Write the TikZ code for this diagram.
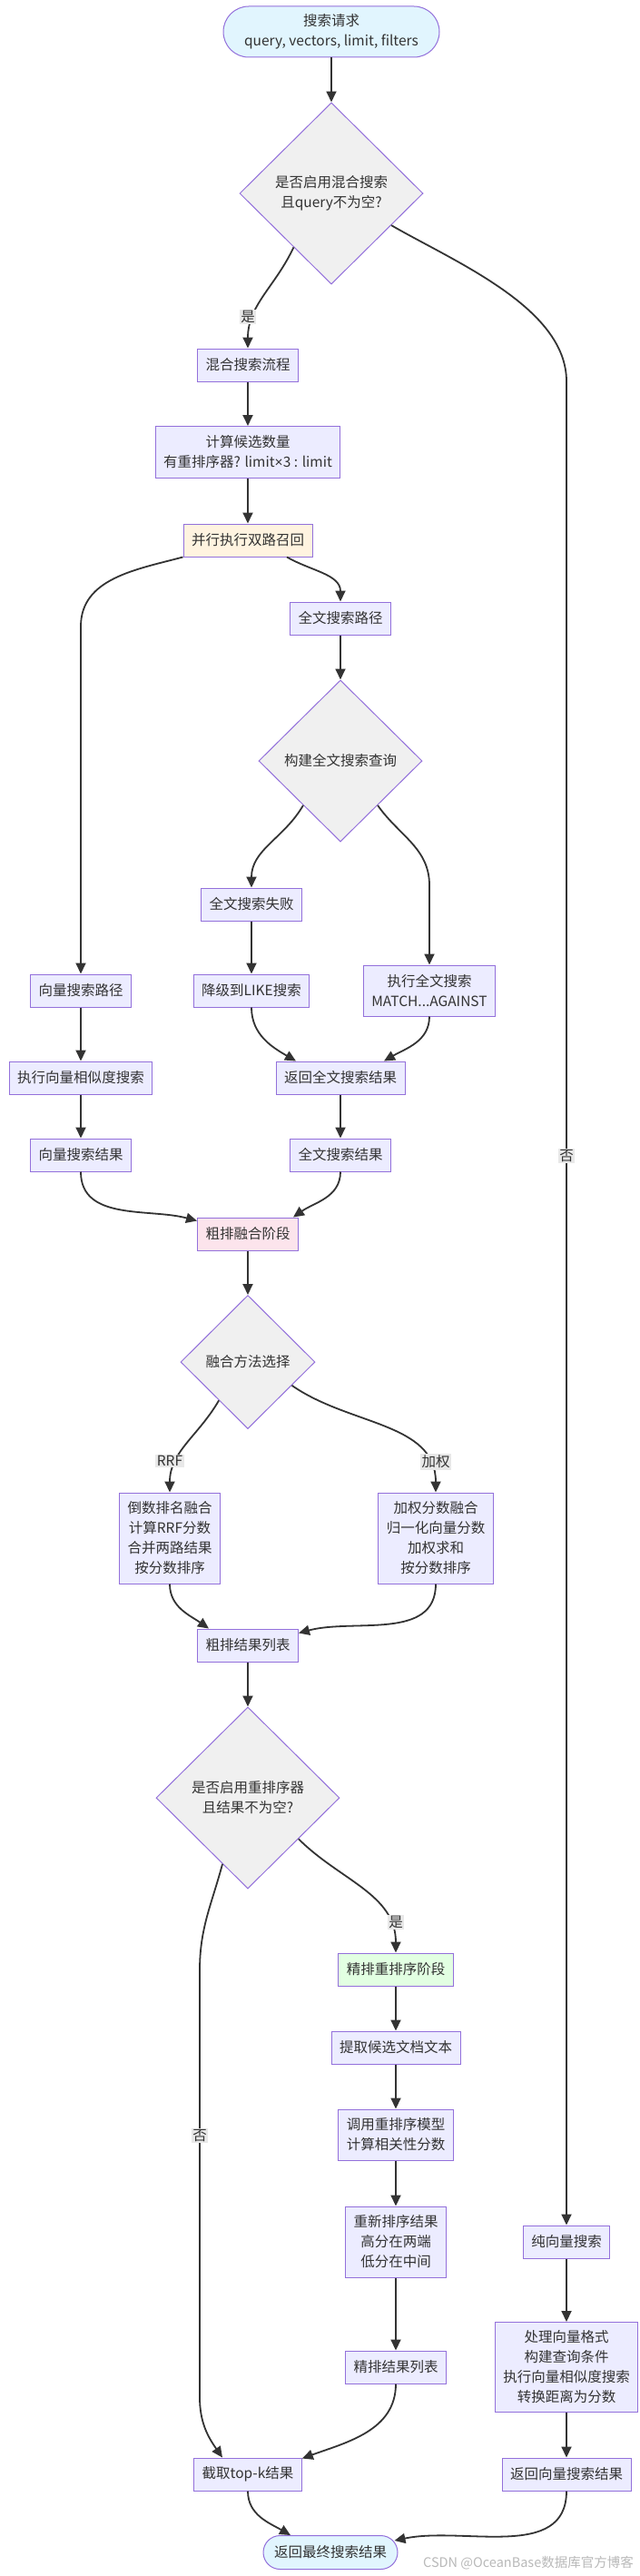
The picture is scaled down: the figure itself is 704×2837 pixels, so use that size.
\documentclass[tikz,border=0pt]{standalone}
\usepackage{fontspec}
\setmainfont{Noto Sans CJK SC}
\newfontfamily\timesfont{Liberation Sans}
\usepackage{tikz}
\usetikzlibrary{arrows.meta}
\usetikzlibrary{shapes.geometric}
\usetikzlibrary{shapes.misc}
\definecolor{boxfill}{RGB}{236,236,255}
\definecolor{boxline}{RGB}{147,112,219}
\definecolor{askfill}{RGB}{240,240,240}
\definecolor{endfill}{RGB}{225,245,254}
\definecolor{parfill}{RGB}{255,243,224}
\definecolor{fusefill}{RGB}{252,228,236}
\definecolor{finefill}{RGB}{226,255,226}
\definecolor{wire}{RGB}{51,51,51}
\definecolor{labfill}{RGB}{232,232,232}
\tikzset{>={Triangle[length=12pt,width=11pt]}}
\tikzset{
	box/.style={draw=boxline, fill=boxfill, line width=1pt, text=wire, align=center,
		minimum height=36pt, inner xsep=9pt, inner ysep=2pt, font=\fontsize{15.5}{22}\selectfont},
	term/.style={box, rounded rectangle, fill=endfill, inner xsep=2pt},
	ask/.style={box, diamond, aspect=1, fill=askfill, inner sep=0pt},
	flow/.style={draw=wire, line width=1.8pt, ->},
	elabel/.style={fill=labfill, text=wire, inner sep=1.5pt, font=\fontsize{15.5}{18}\selectfont},
}
\newcommand{\elab}[3]{% name, at, text
	\node[elabel] (#1) at (#2) {#3} % edge label
}
\begin{document}
\begin{tikzpicture}[x=1pt,y=-1pt]
			\path[use as bounding box, fill=white] (0,0) rectangle (704,2837);

			\node[term, minimum width=242pt, minimum height=56pt] (start) at (365,35) {搜索请求\\query, vectors, limit, filters};
			\node[ask, minimum width=202pt, minimum height=200pt] (d1) at (365,213) {是否启用混合搜索\\且query不为空?};
			\node[box] (hyb) at (273,402) {混合搜索流程};
			\node[box, minimum height=57pt] (calc) at (273,498) {计算候选数量\\有重排序器? limit{\timesfont ×}3 : limit};
			\node[box, fill=parfill] (par) at (273,595) {并行执行双路召回};
			\node[box] (ftpath) at (375,681) {全文搜索路径};
			\node[ask, minimum width=180pt, minimum height=178pt] (d2) at (375,838) {构建全文搜索查询};
			\node[box] (ftfail) at (277,996) {全文搜索失败};
			\node[box] (like) at (277,1091) {降级到LIKE搜索};
			\node[box, minimum height=56pt] (ftexec) at (473,1091) {执行全文搜索\\MATCH...AGAINST};
			\node[box] (vecpath) at (89,1091) {向量搜索路径};
			\node[box] (vecexec) at (89,1187) {执行向量相似度搜索};
			\node[box] (ftret) at (375,1187) {返回全文搜索结果};
			\node[box] (vecres) at (89,1272) {向量搜索结果};
			\node[box] (ftres) at (375,1272) {全文搜索结果};
			\node[box, fill=fusefill] (fuse) at (273,1359) {粗排融合阶段};
			\node[ask, minimum width=148pt, minimum height=147pt] (d3) at (273,1500) {融合方法选择};
			\node[box, minimum height=100pt] (rrf) at (187,1694) {倒数排名融合\\计算RRF分数\\合并两路结果\\按分数排序};
			\node[box, minimum height=100pt] (wsum) at (480,1694) {加权分数融合\\归一化向量分数\\加权求和\\按分数排序};
			\node[box] (coarse) at (273,1812) {粗排结果列表};
			\node[ask, minimum width=202pt, minimum height=200pt] (d4) at (273,1980) {是否启用重排序器\\且结果不为空?};
			\node[box, fill=finefill] (rerank) at (436,2169) {精排重排序阶段};
			\node[box] (extract) at (436,2255) {提取候选文档文本};
			\node[box, minimum height=56pt] (model) at (436,2351) {调用重排序模型\\计算相关性分数};
			\node[box, minimum height=78pt] (reorder) at (436,2469) {重新排序结果\\高分在两端\\低分在中间};
			\node[box] (fine) at (436,2607) {精排结果列表};
			\node[box] (topk) at (273,2725) {截取top-k结果};
			\node[box] (pure) at (624,2469) {纯向量搜索};
			\node[box, minimum height=99pt] (pfmt) at (624,2607) {处理向量格式\\构建查询条件\\执行向量相似度搜索\\转换距离为分数};
			\node[box] (pret) at (624,2725) {返回向量搜索结果};
			\node[term, minimum width=152pt, minimum height=37pt] (final) at (364,2811) {返回最终搜索结果};
			\node[text=gray!55, font=\fontsize{14.5}{16}\selectfont] (mark) at (582,2823) {CSDN @OceanBase数据库官方博客};

			\coordinate (nob1) at (624,420);
			\coordinate (vb) at (89,690);
			\coordinate (fb) at (473,975);
			\coordinate (nob2) at (220,2170);
			\coordinate (nob3) at (220,2640);

			\draw[flow] (start.south) -- (d1.north);
			\draw[flow] (d1.235) to[out=-115,in=90] (hyb.north);
			\draw[flow] (d1.332) to[out=-30,in=90,looseness=0.8] (nob1) -- (pure.north);
			\draw[flow] (hyb) -- (calc);
			\draw[flow] (calc) -- (par);
			\draw[flow] (par.south west) to[out=195,in=90] (vb) -- (vecpath.north);
			\draw[flow] ([xshift=43pt]par.south) to[out=-30,in=90] (ftpath.north);
			\draw[flow] (ftpath) -- (d2);
			\draw[flow] (d2.230) to[out=-120,in=90] (ftfail.north);
			\draw[flow] (d2.310) to[out=-55,in=90] (fb) -- (ftexec.north);
			\draw[flow] (ftfail) -- (like);
			\draw[flow] (vecpath) -- (vecexec);
			\draw[flow] (vecexec) -- (vecres);
			\draw[flow] (like.south) to[out=-90,in=150] ([xshift=-49pt]ftret.north);
			\draw[flow] (ftexec.south) to[out=-90,in=30] ([xshift=48pt]ftret.north);
			\draw[flow] (ftret) -- (ftres);
			\draw[flow] (vecres.south) to[out=-90,in=165] ([yshift=-4pt]fuse.north west);
			\draw[flow] (ftres.south) to[out=-90,in=35] ([xshift=50pt]fuse.north);
			\draw[flow] (fuse) -- (d3);
			\draw[flow] (d3.233) to[out=-120,in=90] (rrf.north);
			\draw[flow] (d3.332) to[out=-35,in=90] (wsum.north);
			\draw[flow] (rrf.south) to[out=-90,in=145] ([xshift=-43pt]coarse.north);
			\draw[flow] (wsum.south) to[out=-90,in=15] ([yshift=-5pt]coarse.north east);
			\draw[flow] (coarse) -- (d4);
			\draw[flow] (d4.321) to[out=-45,in=90] (rerank.north);
			\draw[flow] (d4.249) to[out=-105,in=90] (nob2) -- (nob3) to[out=-90,in=125] ([xshift=-28pt]topk.north);
			\draw[flow] (rerank) -- (extract);
			\draw[flow] (extract) -- (model);
			\draw[flow] (model) -- (reorder);
			\draw[flow] (reorder) -- (fine);
			\draw[flow] (fine.south) to[out=-90,in=20] ([yshift=-1pt]topk.north east);
			\draw[flow] (pure) -- (pfmt);
			\draw[flow] (pfmt) -- (pret);
			\draw[flow] (topk.south) to[out=-90,in=150] ([xshift=-44pt]final.north);
			\draw[flow] (pret.south) to[out=-90,in=12] ([shift={(-4pt,13pt)}]final.east);

			\elab{yes1}{273,349}{是};
			\elab{no1}{624,1273}{否};
			\elab{rrflab}{187,1609}{RRF};
			\elab{wlab}{480,1610}{加权};
			\elab{yes2}{436,2117}{是};
			\elab{no2}{220,2352}{否};
\end{tikzpicture}
\end{document}
